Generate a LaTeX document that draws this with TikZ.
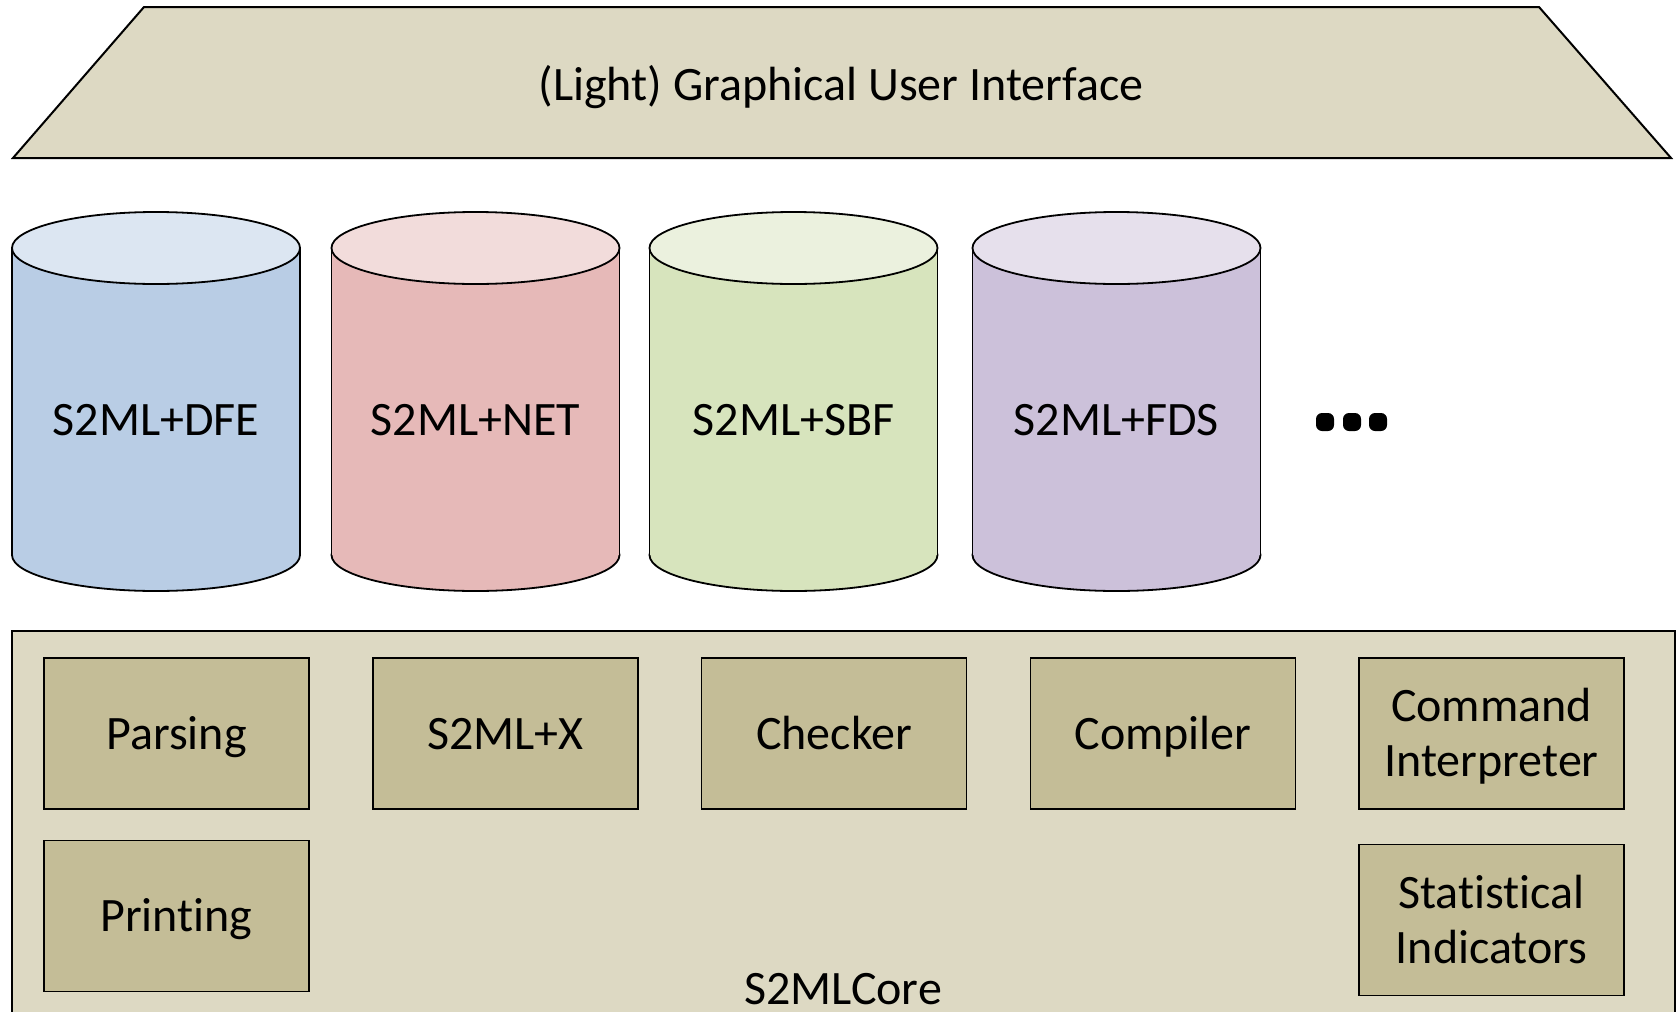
\documentclass[tikz,border=0pt]{standalone}
\usepackage{fontspec}
\setmainfont{Carlito}[Ligatures=NoCommon]
\definecolor{tan}{HTML}{DDD9C3}
\definecolor{tandark}{HTML}{C4BD97}
\definecolor{blueB}{HTML}{B9CDE5}\definecolor{blueT}{HTML}{DCE6F2}
\definecolor{redB}{HTML}{E6B9B8}\definecolor{redT}{HTML}{F2DCDB}
\definecolor{greenB}{HTML}{D7E4BD}\definecolor{greenT}{HTML}{EBF1DE}
\definecolor{purpB}{HTML}{CCC1DA}\definecolor{purpT}{HTML}{E6E0EC}
\tikzset{
  outline/.style={draw=black, line width=1.8pt},
  bigtext/.style={font=\fontsize{48}{55}\selectfont, inner sep=0pt},
  module/.style={outline, fill=tandark, minimum width=265pt, minimum height=151pt,
    inner sep=0pt, align=center, font=\fontsize{48}{55}\selectfont,
    text height=31pt, text depth=0pt},
  module2/.style={module, text height=86pt},
}
% draws a drum: label, centre x, top-ellipse centre y, bottom-ellipse centre y, body and top colours
\newcommand{\drum}[6]{%
  \fill[#5, outline] (#2,#4) ellipse[x radius=144, y radius=36];
  \fill[#5] (#2-144,#3) rectangle (#2+144,#4);
  \draw[line width=1.8pt] (#2-144,#3) -- (#2-144,#4) (#2+144,#3) -- (#2+144,#4);
  \fill[#6, outline] (#2,#3) ellipse[x radius=144, y radius=36];
  \node[bigtext, anchor=base] (#1) at (#2,435) {#1};
}
\begin{document}
\begin{tikzpicture}[x=1pt,y=-1pt]
\useasboundingbox (0,0) rectangle (1679,1012);
\clip (0,0) rectangle (1679,1012);

% top layer
\fill[tan, draw=black, line width=2pt] (144,7) -- (1539,7) -- (1671,158) -- (13,158) -- cycle;
\node[bigtext, anchor=base] (gui) at (841,100) {(Light) Graphical User Interface};

% domain libraries
\drum{S2ML+DFE}{156}{248}{555}{blueB}{blueT}
\drum{S2ML+NET}{475.5}{248}{555}{redB}{redT}
\drum{S2ML+SBF}{793.5}{248}{555}{greenB}{greenT}
\drum{S2ML+FDS}{1116.5}{248}{555}{purpB}{purpT}
\node[inner sep=0pt, minimum width=70pt, minimum height=18pt] (more) at (1352,422) {};
\foreach \dx in {-27,0,26}
  \fill[black, rounded corners=6pt] ([xshift=\dx pt]more.center) ++(-9,-9) rectangle ++(18,18);

% core
\fill[tan, outline] (12,631) rectangle (1675,1030);
\node[module] (parsing) at (176.5,733.5) {Parsing};
\node[module] (x) at (505.5,733.5) {S2ML+X};
\node[module] (checker) at (834,733.5) {Checker};
\node[module] (compiler) at (1163,733.5) {Compiler};
\node[module2] (command) at (1491.5,733.5) {Command\\Interpreter};
\node[module] (printing) at (176.5,916) {Printing};
\node[module2] (stats) at (1491.5,920) {Statistical\\Indicators};
\node[bigtext, anchor=base, text depth=0pt] (core) at (843,1004) {S2MLCore};
\end{tikzpicture}
\end{document}
